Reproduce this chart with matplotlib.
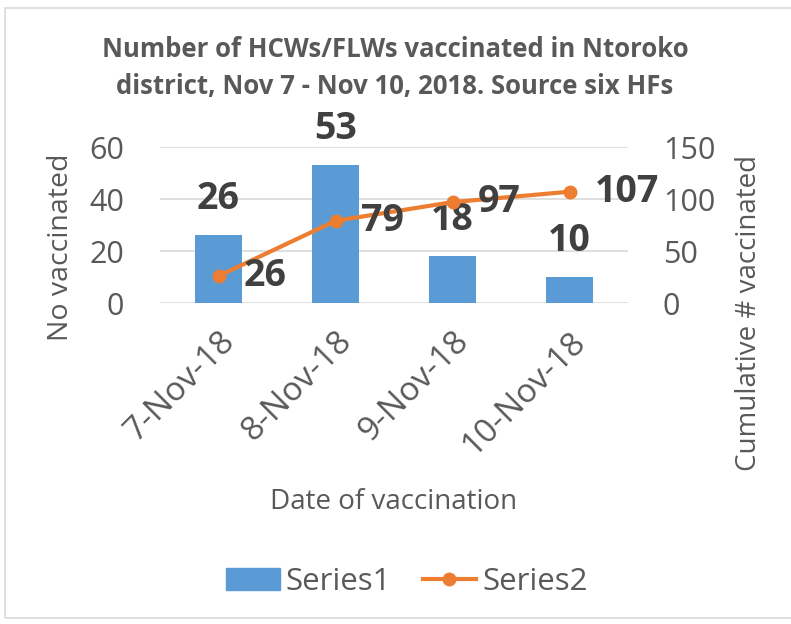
import matplotlib.pyplot as plt
from matplotlib.patches import Rectangle
from matplotlib.lines import Line2D

plt.rcParams['font.family'] = ['Open Sans', 'DejaVu Sans']

dates = ['7-Nov-18', '8-Nov-18', '9-Nov-18', '10-Nov-18']
daily = [26, 53, 18, 10]
cumulative = [26, 79, 97, 107]

bar_color = '#5B9BD5'
line_color = '#ED7D31'
text_color = '#595959'
label_color = '#404040'

W, H = 791, 624
fig = plt.figure(figsize=(W / 100, H / 100), dpi=100)
fig.patches.append(Rectangle((5 / W, 6 / H), 1, 1 - 14 / H, transform=fig.transFigure,
                             fill=False, edgecolor='#d9d9d9', lw=1.2))

ax = fig.add_axes([160 / W, (H - 303) / H, 468 / W, 156 / H])
x = range(len(dates))
ax.bar(x, daily, width=0.4, color=bar_color, zorder=2)
ax.set_xlim(-0.5, len(dates) - 0.5)
ax.set_ylim(0, 60)
ax.set_yticks([0, 20, 40, 60])
ax.yaxis.grid(True, color='#d9d9d9', lw=1.2, zorder=0)
ax.set_axisbelow(True)
for s in ax.spines.values():
    s.set_visible(False)
ax.tick_params(axis='y', length=0, labelsize=22, colors=text_color, pad=26)
ax.tick_params(axis='x', length=0, labelsize=24, colors=text_color, pad=16)
ax.set_xticks(list(x))
ax.set_xticklabels(dates, rotation=45, ha='right', va='top', rotation_mode='anchor')

for i, v in enumerate(daily):
    ax.annotate(str(v), (i, v), xytext=(0, 26), textcoords='offset points',
                ha='center', va='center', fontsize=27, fontweight='bold', color=label_color)

ax2 = ax.twinx()
ax2.plot(list(x), cumulative, color=line_color, lw=3, marker='o', markersize=9, zorder=3)
ax2.set_ylim(0, 150)
ax2.set_yticks([0, 50, 100, 150])
for s in ax2.spines.values():
    s.set_visible(False)
ax2.tick_params(length=0, labelsize=22, colors=text_color, pad=25)

for i, v in enumerate(cumulative):
    ax2.annotate(str(v), (i, v), xytext=(18, 0), textcoords='offset points',
                 ha='left', va='center', fontsize=27, fontweight='bold', color=label_color)

# axis titles
fig.text(61 / W, 1 - 247 / H, 'No vaccinated', rotation=90, ha='center', va='center',
         fontsize=20.5, color=text_color)
fig.text(749 / W, 1 - 313 / H, 'Cumulative # vaccinated', rotation=90, ha='center', va='center',
         fontsize=20, color=text_color)
fig.text(394 / W, 1 - 502 / H, 'Date of vaccination', ha='center', va='center',
         fontsize=20, color=text_color)

fig.text(395 / W, 1 - 68 / H, 'Number of HCWs/FLWs vaccinated in Ntoroko\ndistrict, Nov 7 - Nov 10, 2018. Source six HFs',
         ha='center', va='center', fontsize=18.5, fontweight='bold', color=text_color, linespacing=1.5)

handles = [Rectangle((0, 0), 1, 1, color=bar_color),
           Line2D([0], [0], color=line_color, lw=3, marker='o', markersize=9)]
fig.legend(handles, ['Series1', 'Series2'], loc='center', bbox_to_anchor=(407 / W, 1 - 582 / H),
           ncol=2, frameon=False, fontsize=22.5, labelcolor=text_color, handlelength=1.7,
           handletextpad=0.2, columnspacing=1.0, borderpad=0)

fig.savefig('out.png', dpi=100)
